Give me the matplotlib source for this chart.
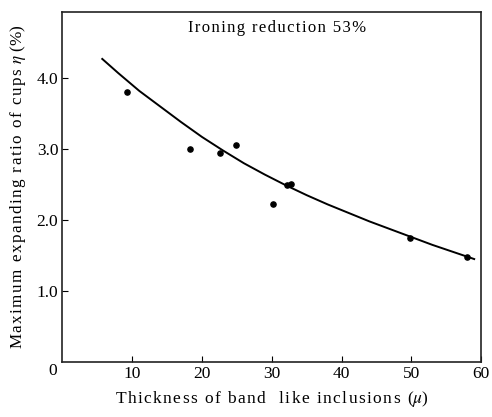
import matplotlib
matplotlib.use("Agg")
import matplotlib.pyplot as plt

# measured points
thickness = [9.2, 18.3, 22.6, 24.9, 30.1, 32.2, 32.8, 49.8, 58.0]
expanding = [3.80, 3.00, 2.94, 3.06, 2.22, 2.49, 2.51, 1.74, 1.48]

# hand drawn trend curve
curve_x = [5.7, 8, 11, 14, 17, 20, 23, 26, 29, 32, 35, 38, 41, 44, 47, 50, 53, 56, 59]
curve_y = [4.27, 4.07, 3.82, 3.60, 3.38, 3.17, 2.98, 2.80, 2.64, 2.49, 2.35, 2.22, 2.10, 1.98, 1.87, 1.76, 1.65, 1.55, 1.45]

x_ticks = [10, 20, 30, 40, 50, 60]
y_ticks = [1.0, 2.0, 3.0, 4.0]

plt.rcParams['font.family'] = ['Liberation Serif', 'DejaVu Serif']
plt.rcParams['mathtext.fontset'] = 'stix'


def spaced(s, gap='\u200a'):
    # old typeset look: letters set a little apart
    return gap.join(s)


fig = plt.figure(figsize=(4.92, 4.17), dpi=100)
ax = fig.add_axes([0.127, 0.132, 0.851, 0.839])

ax.plot(curve_x, curve_y, color='black', lw=1.4)
ax.scatter(thickness, expanding, s=14, color='black', zorder=3)

ax.set_xlim(0, 59.8)
ax.set_ylim(0, 4.93)
ax.set_xticks(x_ticks)
ax.set_yticks(y_ticks)
ax.set_yticklabels(['%.1f' % v for v in y_ticks])
ax.tick_params(direction='in', length=4, width=0.8, labelsize=12.5, pad=3)
for s in ax.spines.values():
    s.set_linewidth(1.2)
    s.set_color('#222222')

ax.text(-0.8, -0.02, '0', fontsize=12.5, ha='right', va='top')
ax.text(30.7, 4.70, spaced('Ironing reduction 53%'), fontsize=12, ha='center', va='center')

ax.set_xlabel(spaced('Thickness of band  like inclusions (') + '$\\mu$)',
              fontsize=12.5, labelpad=5)
ax.set_ylabel(spaced('Maximum expanding ratio of cups ') + '$\\eta$ (%)',
              fontsize=12.3, labelpad=6)

fig.savefig('out.png', dpi=100)
